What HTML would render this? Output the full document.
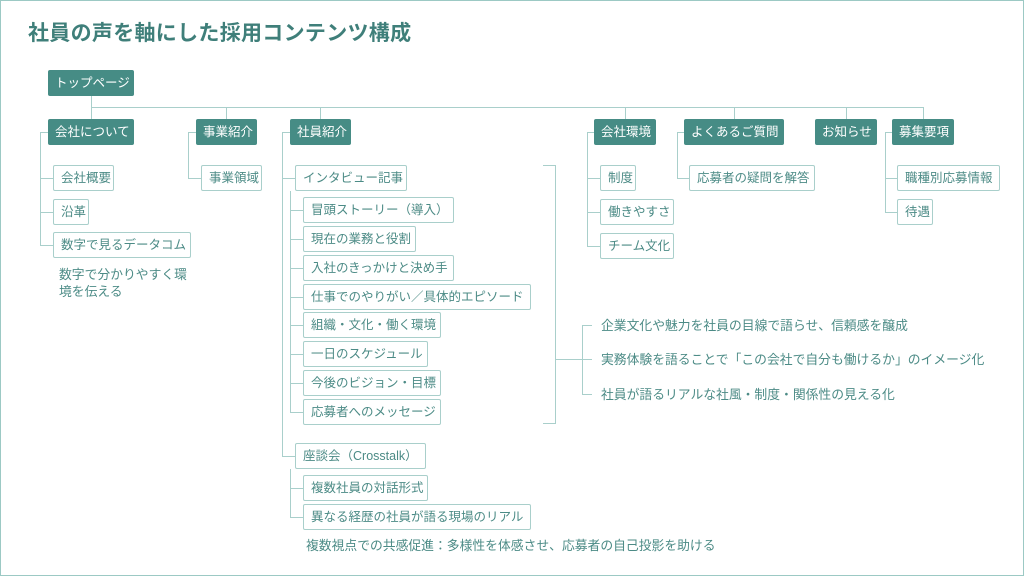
<!DOCTYPE html>
<html><head><meta charset="utf-8"><style>
*{margin:0;padding:0;box-sizing:border-box}
body{width:1024px;height:576px;background:#fff;position:relative;overflow:hidden;font-family:"Liberation Sans","Noto Sans CJK JP",sans-serif}
.frame{position:absolute;left:0;top:0;width:1024px;height:576px;border:1px solid #9cc9c4;}
.t{position:absolute;left:28px;top:17px;font-size:21px;font-weight:bold;color:#3f7f7a;letter-spacing:0.3px}
.d{position:absolute;height:26px;background:#468c85;color:#fff;border-radius:2px;font-size:12.5px;line-height:26px;padding-left:7px;white-space:nowrap}
.o{position:absolute;height:26px;background:#fff;border:1px solid #a9cfcb;color:#4c8b86;border-radius:2px;font-size:12.5px;line-height:24px;padding-left:7px;white-space:nowrap}
.tx{position:absolute;color:#4c8b86;font-size:12.8px;white-space:nowrap;line-height:17px}
.h,.v{position:absolute;background:#a9cfcb}
.h{height:1px}.v{width:1px}
</style></head><body>
<div class="frame"></div>
<div class="t">社員の声を軸にした採用コンテンツ構成</div>

<div class="v" style="left:91px;top:96px;height:23px"></div>
<div class="h" style="left:91px;top:107px;width:833px"></div>
<div class="v" style="left:226px;top:107px;height:12px"></div>
<div class="v" style="left:320px;top:107px;height:12px"></div>
<div class="v" style="left:625px;top:107px;height:12px"></div>
<div class="v" style="left:734px;top:107px;height:12px"></div>
<div class="v" style="left:846px;top:107px;height:12px"></div>
<div class="v" style="left:923px;top:107px;height:12px"></div>

<div class="d" style="left:48px;top:70px;width:86px">トップページ</div>
<div class="d" style="left:48px;top:119px;width:86px">会社について</div>
<div class="d" style="left:196px;top:119px;width:61px">事業紹介</div>
<div class="d" style="left:290px;top:119px;width:61px">社員紹介</div>
<div class="d" style="left:594px;top:119px;width:62px">会社環境</div>
<div class="d" style="left:684px;top:119px;width:100px">よくあるご質問</div>
<div class="d" style="left:815px;top:119px;width:62px">お知らせ</div>
<div class="d" style="left:892px;top:119px;width:62px">募集要項</div>

<div class="h" style="left:40px;top:132px;width:8px"></div>
<div class="v" style="left:40px;top:132px;height:114px"></div>
<div class="h" style="left:40px;top:178px;width:13px"></div>
<div class="h" style="left:40px;top:212px;width:13px"></div>
<div class="h" style="left:40px;top:245px;width:13px"></div>
<div class="o" style="left:53px;top:165px;width:61px">会社概要</div>
<div class="o" style="left:53px;top:199px;width:36px">沿革</div>
<div class="o" style="left:53px;top:232px;width:138px">数字で見るデータコム</div>
<div class="tx" style="left:59px;top:266px">数字で分かりやすく環<br>境を伝える</div>

<div class="h" style="left:188px;top:132px;width:8px"></div>
<div class="v" style="left:188px;top:132px;height:46px"></div>
<div class="h" style="left:188px;top:178px;width:13px"></div>
<div class="o" style="left:201px;top:165px;width:61px">事業領域</div>

<div class="h" style="left:282px;top:132px;width:8px"></div>
<div class="v" style="left:282px;top:132px;height:325px"></div>
<div class="h" style="left:282px;top:178px;width:13px"></div>
<div class="h" style="left:282px;top:456px;width:13px"></div>
<div class="o" style="left:295px;top:165px;width:112px">インタビュー記事</div>
<div class="v" style="left:290px;top:191px;height:221px"></div>
<div class="h" style="left:290px;top:210px;width:13px"></div>
<div class="h" style="left:290px;top:239px;width:13px"></div>
<div class="h" style="left:290px;top:268px;width:13px"></div>
<div class="h" style="left:290px;top:297px;width:13px"></div>
<div class="h" style="left:290px;top:325px;width:13px"></div>
<div class="h" style="left:290px;top:354px;width:13px"></div>
<div class="h" style="left:290px;top:383px;width:13px"></div>
<div class="h" style="left:290px;top:412px;width:13px"></div>
<div class="o" style="left:303px;top:197px;width:151px">冒頭ストーリー（導入）</div>
<div class="o" style="left:303px;top:226px;width:113px">現在の業務と役割</div>
<div class="o" style="left:303px;top:255px;width:151px">入社のきっかけと決め手</div>
<div class="o" style="left:303px;top:284px;width:228px">仕事でのやりがい／具体的エピソード</div>
<div class="o" style="left:303px;top:312px;width:138px">組織・文化・働く環境</div>
<div class="o" style="left:303px;top:341px;width:125px">一日のスケジュール</div>
<div class="o" style="left:303px;top:370px;width:138px">今後のビジョン・目標</div>
<div class="o" style="left:303px;top:399px;width:138px">応募者へのメッセージ</div>

<div class="o" style="left:295px;top:443px;width:131px">座談会（Crosstalk）</div>
<div class="v" style="left:290px;top:469px;height:48px"></div>
<div class="h" style="left:290px;top:488px;width:13px"></div>
<div class="h" style="left:290px;top:517px;width:13px"></div>
<div class="o" style="left:303px;top:475px;width:125px">複数社員の対話形式</div>
<div class="o" style="left:303px;top:504px;width:228px">異なる経歴の社員が語る現場のリアル</div>
<div class="tx" style="left:306px;top:537px">複数視点での共感促進：多様性を体感させ、応募者の自己投影を助ける</div>

<div class="h" style="left:543px;top:165px;width:12px"></div>
<div class="v" style="left:555px;top:165px;height:259px"></div>
<div class="h" style="left:543px;top:423px;width:12px"></div>
<div class="h" style="left:555px;top:359px;width:37px"></div>
<div class="v" style="left:582px;top:325px;height:69px"></div>
<div class="h" style="left:582px;top:325px;width:10px"></div>
<div class="h" style="left:582px;top:394px;width:10px"></div>
<div class="tx" style="left:601px;top:317px">企業文化や魅力を社員の目線で語らせ、信頼感を醸成</div>
<div class="tx" style="left:601px;top:351px">実務体験を語ることで「この会社で自分も働けるか」のイメージ化</div>
<div class="tx" style="left:601px;top:386px">社員が語るリアルな社風・制度・関係性の見える化</div>

<div class="h" style="left:587px;top:132px;width:7px"></div>
<div class="v" style="left:587px;top:132px;height:114px"></div>
<div class="h" style="left:587px;top:178px;width:13px"></div>
<div class="h" style="left:587px;top:212px;width:13px"></div>
<div class="h" style="left:587px;top:246px;width:13px"></div>
<div class="o" style="left:600px;top:165px;width:36px">制度</div>
<div class="o" style="left:600px;top:199px;width:74px">働きやすさ</div>
<div class="o" style="left:600px;top:233px;width:74px">チーム文化</div>

<div class="h" style="left:677px;top:132px;width:7px"></div>
<div class="v" style="left:677px;top:132px;height:46px"></div>
<div class="h" style="left:677px;top:178px;width:12px"></div>
<div class="o" style="left:689px;top:165px;width:126px">応募者の疑問を解答</div>

<div class="h" style="left:885px;top:132px;width:7px"></div>
<div class="v" style="left:885px;top:132px;height:80px"></div>
<div class="h" style="left:885px;top:178px;width:12px"></div>
<div class="h" style="left:885px;top:212px;width:12px"></div>
<div class="o" style="left:897px;top:165px;width:103px">職種別応募情報</div>
<div class="o" style="left:897px;top:199px;width:36px">待遇</div>
</body></html>
